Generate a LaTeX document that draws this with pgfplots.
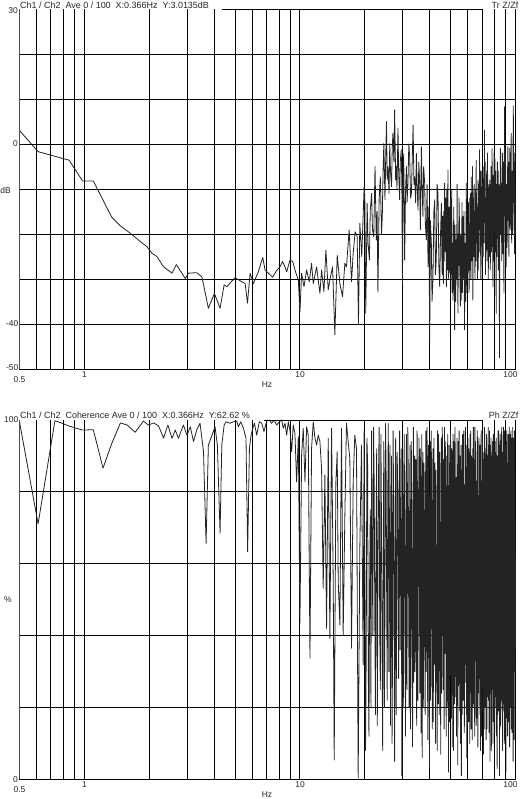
\documentclass[border=0pt]{standalone}
\usepackage{pgfplots}
\pgfplotsset{compat=1.18}
\usepackage{fontspec}
\setmainfont{Liberation Sans}
\definecolor{axred}{RGB}{200,25,25}
\definecolor{trace}{RGB}{35,35,35}
\tikzset{
  tl/.style={font=\fontsize{8.5}{10}\selectfont, inner sep=0pt, text=black!85},
  hd/.style={font=\fontsize{9}{10}\selectfont, inner sep=0pt, text=black!85},
}

\pgfplotstableread{
x y
0.5 3.0
0.61 -1.7
0.85 -3.6
0.98 -8.2
1.10 -8.2
1.34 -16.3
1.47 -18.2
1.63 -19.8
1.82 -21.7
1.95 -22.8
2.06 -24.3
2.17 -25.0
2.33 -27.3
2.55 -28.7
2.67 -26.8
2.94 -29.9
3.04 -28.7
3.32 -28.6
3.51 -29.5
3.76 -36.5
4.01 -33.2
4.26 -36.5
4.45 -31.3
4.58 -31.7
5.00 -29.7
5.37 -30.6
5.57 -31.0
5.71 -35.4
5.87 -28.7
6.08 -31.0
6.41 -28.4
6.72 -25.2
6.89 -28.0
7.14 -28.7
7.47 -29.6
7.80 -28.1
8.08 -27.3
8.31 -26.1
8.52 -27.3
8.68 -28.4
8.99 -25.8
9.25 -26.1
9.58 -28.7
9.83 -30.2
10.00 -37.3
10.18 -28.7
10.44 -31.7
10.74 -28.0
11.05 -30.6
11.32 -26.5
11.53 -31.0
11.95 -27.3
12.38 -33.2
12.60 -28.0
12.92 -32.8
13.19 -23.6
13.53 -32.4
13.77 -30.2
14.17 -27.3
14.52 -42.4
14.89 -24.7
15.32 -31.0
15.76 -33.9
16.16 -26.5
16.44 -27.3
16.92 -19.1
17.35 -30.6
17.66 -24.3
18.04 -19.5
18.43 -20.6
18.69 -39.9
18.96 -17.6
19.36 -25.0
19.85 -9.5
20.0 -12.0
20.2 -37.6
20.5 -13.2
20.7 -22.0
21.0 -25.8
21.2 -14.7
21.5 -11.0
21.7 -19.0
22.0 -20.6
22.3 -5.0
22.6 -21.3
22.8 -15.0
23.0 -32.8
23.3 -12.4
23.6 -7.3
23.9 -20.0
24.1 -16.1
24.3 -6.0
24.5 0.1
24.8 -12.4
25.0 -3.0
25.2 5.0
25.4 -8.0
25.6 -5.0
25.9 -11.0
26.1 0.1
26.3 -6.0
26.6 -9.5
26.8 -1.0
27.0 2.4
27.3 -4.0
27.5 7.6
27.8 -8.0
28.0 -5.0
28.2 -10.0
28.5 3.5
28.7 -6.0
29.0 -12.4
29.2 -4.0
29.5 -1.3
29.7 -9.0
29.9 -31.3
30.1 -8.0
30.3 -2.1
30.6 -25.8
30.9 -10.0
31.2 -5.0
31.4 -13.0
31.7 -8.7
32.0 0.0
32.3 -2.8
32.6 -12.0
32.9 -11.0
33.2 -3.0
33.5 4.2
33.8 -9.0
34.1 -7.3
34.4 -13.0
34.7 -2.1
35.0 -10.0
35.3 -14.7
35.6 -4.0
35.9 -8.0
36.2 -19.0
36.6 -0.6
36.9 -10.0
37.2 -16.1
37.5 -5.0
37.9 -8.7
38.2 -18.0
38.6 -21.3
38.9 -9.0
39.3 -27.3
39.6 -14.0
40.0 -44.0
40.3 -17.0
40.7 -22.1
41.0 -35.0
41.4 -30.2
41.8 -15.0
42.2 -12.4
42.5 -29.0
42.9 -25.8
43.3 -9.0
43.7 -11.0
44.1 -27.0
44.5 -31.7
44.9 -20.0
45.3 -13.2
45.5 -24
45.7 -29.0
45.9 -16
46.1 -23.6
46.3 -31
46.5 -15.0
46.7 -26
46.9 -8.7
47.1 -20
47.3 -24.0
47.5 -12
47.8 -31.7
48.0 -10
48.2 -18.0
48.4 -28
48.6 -5.8
48.8 -30
49.0 -22.0
49.2 -14
49.5 -28.7
49.7 -20
49.9 -12.0
50.1 -30
50.4 -19.1
50.6 -10
50.8 -33.0
51.0 -22
51.3 -34.7
51.5 -25
51.7 -14.0
52.0 -30
52.2 -41.3
52.4 -18
52.6 -25.0
52.8 -35
53.1 -21.3
53.3 -30
53.6 -9.0
53.8 -26
54.1 -37.6
54.3 -20
54.5 -27.0
54.7 -12
55.0 -18.4
55.2 -29
55.5 -36.0
55.7 -20
56.0 -34.7
56.2 -24
56.5 -13.0
56.7 -33
57.0 -16.1
57.2 -27
57.5 -30.0
57.7 -15
58.0 -41.3
58.2 -28
58.5 -22.0
58.8 -35
59.1 -8.7
59.3 -21
59.6 -33.0
59.8 -18
60.1 -28.7
60.3 -20
60.5 -13.0
60.7 -24
60.9 -33.0
61.2 -21.3
61.4 -12
61.6 -28.0
61.9 -11.0
62.1 -30
62.3 -7.3
62.5 -18
62.7 -26.0
63.0 -17.0
63.2 -5
63.4 -34.7
63.6 -22
63.8 -12.0
64.1 -25.0
64.3 -9
64.5 -17.6
64.7 -27
64.9 -30.0
65.1 -19
65.3 -10.0
65.5 -26
65.7 -3.6
65.9 -15
66.1 -22.0
66.4 -14.0
66.6 -30
66.8 -21.3
67.0 -8
67.2 -28.0
67.4 -16
67.6 -9.0
67.8 -24
68.1 -1.3
68.3 -12
68.5 -19.0
68.7 -6
68.9 -24.0
69.1 -30
69.3 -16.1
69.5 -22
69.7 -6.0
69.9 -14
70.1 -27.0
70.3 -18
70.6 -8.7
70.8 -25
71.0 -20.0
71.2 -5
71.4 -13.0
71.6 -22
71.8 3.1
72.0 -10
72.2 -15.0
72.4 -4
72.6 -29.0
72.8 -12
73.1 -21.3
73.3 -14
73.5 -6.0
73.7 -26
73.9 -18.0
74.1 -2
74.4 -12.4
74.6 -20
74.8 -30.0
75.0 -16
75.3 -9.0
75.5 -22
75.8 -25.0
76.0 -8
76.2 -14.0
76.4 -28
76.6 -22.0
76.8 -11
77.1 -5.0
77.3 -24
77.6 -19.0
77.8 -1
78.1 -10.0
78.3 -21
78.6 -31.7
78.8 -7
79.0 -16.0
79.2 -26
79.5 -2.0
79.7 -19
80.0 -12.4
80.2 -3
80.4 -24.0
80.6 -15
80.9 -6.0
81.1 -22
81.4 -37.6
81.6 -9
81.8 -14.0
82.1 -25
82.4 -4.0
82.6 -17
82.9 -18.4
83.1 -6
83.3 -28.0
83.5 -14
83.8 -9.0
84.0 -21
84.3 -47.5
84.5 -16
84.8 -12.0
85.1 -1
85.4 -20.0
85.6 -10
85.9 -8.7
86.1 -18
86.4 -26.0
86.6 -7
86.9 -2.0
87.1 -15
87.4 -24.4
87.6 -4
87.9 -11.0
88.1 -20
88.4 -33.0
88.7 -8
89.0 8.3
89.2 -12
89.5 -16.0
89.7 -2
90.0 -5.0
90.2 -18
90.5 -27.3
90.7 -11
91.0 -9.0
91.3 -23
91.6 -20.0
91.9 -6
92.2 -0.6
92.4 -17
92.7 -14.0
92.9 -4
93.2 -25.0
93.5 -9
93.8 -18.4
94.0 -1
94.3 -3.0
94.6 -19
94.9 -12.0
95.2 -5
95.5 2.4
95.7 -14
96.0 -22.0
96.3 -8
96.6 -6.0
96.9 -20
97.2 -16.1
97.4 -3
97.7 8.5
98.0 -13
98.3 -10.0
98.6 -2
98.9 -24.4
99.1 -9
99.4 -4.0
99.7 -15
100 -19.8
}\trdata

\pgfplotstableread{
x y
0.5 99.5
0.61 71.1
0.73 99.8
0.78 99.2
0.85 98.3
0.98 97.2
1.10 97.3
1.22 86.6
1.34 93.5
1.47 99.2
1.58 98.6
1.72 96.6
1.88 99.7
1.98 98.6
2.10 99.2
2.21 98.3
2.33 95.0
2.44 98.6
2.55 94.9
2.64 97.2
2.73 94.9
2.88 98.6
2.99 95.8
3.10 98.1
3.21 94.0
3.32 97.2
3.44 99.1
3.57 91.2
3.67 65.7
3.76 93.0
3.86 94.9
4.04 98.1
4.14 93.0
4.26 68.5
4.34 93.0
4.45 98.6
4.54 99.5
4.74 99.1
4.91 99.5
5.09 99.7
5.18 98.1
5.31 99.5
5.47 97.7
5.62 94.9
5.72 63.4
5.83 92.1
5.93 95.8
6.04 97.7
6.15 99.1
6.30 95.8
6.48 99.5
6.65 99.1
6.81 96.8
7.01 99.7
7.21 100
7.39 99.1
7.58 100
7.80 98.6
8.02 99.5
8.23 100
8.37 97.7
8.52 99.1
8.68 95.8
8.83 99.5
8.99 97.2
9.15 91.2
9.31 98.6
9.48 96.3
9.65 82.8
9.83 95.4
10.00 43.4
10.18 90.3
10.36 97.7
10.55 82.8
10.74 98.1
10.93 95.8
11.13 33.7
11.32 92.1
11.53 99.5
11.74 94.9
11.95 93.0
12.16 95.8
12.38 94.0
12.60 86.5
12.82 53.2
13.05 84.7
13.29 42.0
13.53 94.9
13.77 39.2
14.02 97.7
14.27 55.0
14.42 5.4
14.68 82.8
14.89 91.2
15.05 55.0
15.32 42.9
15.59 97.7
15.87 40.2
16.16 73.6
16.44 99.1
16.74 94.0
17.04 89.3
17.35 36.5
17.66 82.8
17.97 95.8
18.30 92.1
18.63 0.3
18.96 64.3
19.30 93.0
19.65 31.8
19.85 96.8
20.0 60
20.15 8
20.3 35
20.45 95
20.6 88
20.75 30
20.9 12
21.05 55
21.2 75
21.35 20
21.5 97
21.65 62
21.8 40
21.95 98
22.1 83
22.25 45
22.4 18
22.55 70
22.7 92
22.85 15
23.0 55
23.15 85
23.3 98
23.45 42
23.6 25
23.75 96
23.9 70
24.05 35
24.2 8
24.35 66
24.5 94
24.65 20
24.8 48
24.95 99
25.1 86
25.25 52
25.4 22
25.55 78
25.7 99
25.85 30
26.0 60
26.15 93
26.3 15
26.45 57
26.6 90
26.75 10
26.9 38
27.05 97
27.2 78
27.35 40
27.5 5
27.65 68
27.8 95
27.95 18
28.1 45
28.25 91
28.4 82
28.55 50
28.7 28
28.85 80
29.0 97
29.15 36
29.3 65
29.5 92
29.7 1
29.85 55
30.0 88
30.15 20
30.3 33
30.45 96
30.6 73
30.75 44
30.9 12
31.05 81
31.2 96
31.35 25
31.5 52
31.65 98
31.8 85
31.95 48
32.1 20
32.25 70
32.4 93
32.55 14
32.7 42
32.85 94
33.0 79
33.15 35
33.3 9
33.45 64
33.6 98
33.75 27
33.9 58
34.05 90
34.2 30
34.35 74
34.5 89
34.65 40
34.8 15
34.95 97
35.1 76
35.25 22
35.4 47
35.55 83
35.7 95
35.85 55
36.0 24
36.15 92
36.3 84
36.45 13
36.6 62
36.75 96
36.9 6
37.05 50
37.2 91
37.35 20
37.5 36
37.65 88
37.8 72
37.95 45
38.1 18
38.25 80
38.4 97
38.55 30
38.7 50
38.85 98
39.0 87
39.15 11
39.3 26
39.45 93
39.6 68
39.75 38
39.9 3
40.05 75
40.2 94
40.35 22
40.5 44
40.65 97
40.8 80
40.95 49
41.1 14
41.25 70
41.4 92
41.55 16
41.7 56
41.85 95
42.0 32
42.15 64
42.3 88
42.45 40
42.6 10
42.75 86
42.9 77
43.05 27
43.2 60
43.35 8
43.5 97
43.65 52
43.8 21
43.95 96
44.1 83
44.25 18
44.4 40
44.55 91
44.7 70
44.85 33
45.0 7
45.15 62
45.3 95
45.45 24
45.6 53
45.75 98
45.9 86
46.05 42
46.2 25
46.35 89
46.5 66
46.65 14
46.8 98
46.95 58
47.1 35
47.25 94
47.4 81
47.55 44
47.7 12
47.85 68
48.0 90
48.15 20
48.3 48
48.45 96
48.6 74
48.75 37
48.9 2
49.05 60
49.2 93
49.35 16
49.5 57
49.65 88
49.8 29
49.95 97
50.1 87
50.25 45
50.4 17
50.55 92
50.7 79
50.85 9
51.0 43
51.15 85
51.3 96
51.45 34
51.6 8
51.75 94
51.9 71
52.05 21
52.2 55
52.35 98
52.5 92
52.65 47
52.8 23
52.95 76
53.1 84
53.25 12
53.4 38
53.55 95
53.7 67
53.85 30
54.0 4
54.15 82
54.3 94
54.45 26
54.6 50
54.75 97
54.9 80
55.05 40
55.2 19
55.35 73
55.5 90
55.65 10
55.8 63
55.95 93
56.1 1
56.25 54
56.4 86
56.55 18
56.7 30
56.85 96
57.0 75
57.15 22
57.3 46
57.45 88
57.6 97
57.75 51
57.9 13
58.05 70
58.2 82
58.35 32
58.5 58
58.65 98
58.8 27
58.95 66
59.1 93
59.25 39
59.4 6
59.55 87
59.7 70
59.85 15
60.0 41
60.15 95
60.3 89
60.45 44
60.6 16
60.75 92
60.9 78
61.05 26
61.2 52
61.35 10
61.5 96
61.65 63
61.8 24
61.95 97
62.1 85
62.25 14
62.4 36
62.55 90
62.7 69
62.85 43
63.0 11
63.15 77
63.3 92
63.45 20
63.6 47
63.75 98
63.9 81
64.05 35
64.2 21
64.35 89
64.5 74
64.65 12
64.8 98
64.95 55
65.1 33
65.25 94
65.4 86
65.55 41
65.7 15
65.85 83
66.0 64
66.15 17
66.3 45
66.45 97
66.6 94
66.75 50
66.9 9
67.05 72
67.2 79
67.35 24
67.5 56
67.65 95
67.8 28
67.95 68
68.1 88
68.25 31
68.4 18
68.55 93
68.7 72
68.85 8
69.0 39
69.15 85
69.3 97
69.45 46
69.6 12
69.75 61
69.9 83
70.05 19
70.2 51
70.35 96
70.5 26
70.65 75
70.8 91
70.95 36
71.1 7
71.25 89
71.4 68
71.55 14
71.7 44
71.85 98
72.0 95
72.15 53
72.3 20
72.45 92
72.6 80
72.75 29
72.9 60
73.05 11
73.2 31
73.35 96
73.5 87
73.65 48
73.8 14
73.95 90
74.1 76
74.25 23
74.4 49
74.55 84
74.7 98
74.85 40
75.0 22
75.15 93
75.3 84
75.45 13
75.6 37
75.75 97
75.9 65
76.05 28
76.2 5
76.35 71
76.5 93
76.65 35
76.8 54
76.95 95
77.1 82
77.25 8
77.4 17
77.55 62
77.7 90
77.85 25
78.0 42
78.15 94
78.3 71
78.45 33
78.6 10
78.75 86
78.9 96
79.05 45
79.2 58
79.35 16
79.5 29
79.65 97
79.8 86
79.95 52
80.1 13
80.25 91
80.4 77
80.55 20
80.7 46
80.85 88
81.0 94
81.15 38
81.3 23
81.45 95
81.6 81
81.75 12
81.9 53
82.05 90
82.2 3
82.35 66
82.5 89
82.65 18
82.8 35
82.95 97
83.1 73
83.25 43
83.4 19
83.55 84
83.7 97
83.85 27
84.0 61
84.15 93
84.3 1
84.45 57
84.6 85
84.75 14
84.9 40
85.05 96
85.2 69
85.35 31
85.5 15
85.65 80
85.8 92
85.95 22
86.1 50
86.25 98
86.4 27
86.55 64
86.7 88
86.85 37
87.0 8
87.15 91
87.3 75
87.45 19
87.6 43
87.75 85
87.9 98
88.05 46
88.2 21
88.35 94
88.5 83
88.65 10
88.8 56
88.95 97
89.1 11
89.25 70
89.4 91
89.55 26
89.7 34
89.85 93
90.0 78
90.15 42
90.3 2
90.45 82
90.6 94
90.75 17
90.9 48
91.05 97
91.2 86
91.35 33
91.5 18
91.65 88
91.8 70
91.95 12
92.1 59
92.25 95
92.4 96
92.55 45
92.7 25
92.85 90
93.0 82
93.15 16
93.3 38
93.45 98
93.6 66
93.75 29
93.9 9
94.05 74
94.2 93
94.35 21
94.5 52
94.65 96
94.8 80
94.95 36
95.1 20
95.25 87
95.4 97
95.55 14
95.7 44
95.85 92
96.0 72
96.15 27
96.3 13
96.45 95
96.6 88
96.75 50
96.9 31
97.05 98
97.2 76
97.35 19
97.5 5
97.65 68
97.8 95
97.95 34
98.1 55
98.25 93
98.4 84
98.55 11
98.7 24
98.85 97
99.0 90
99.15 47
99.3 40
99.45 86
99.6 68
99.8 30
100 62.6
}\cohdata

\begin{document}
\begin{tikzpicture}
% ---------------- top: transfer function ----------------
\begin{axis}[at={(19.5bp,-369bp)}, anchor=south west,
  scale only axis, width=496bp, height=360bp,
  xmode=log, xmin=0.5, xmax=100, ymin=-50, ymax=30,
  axis line style={draw=none},
  major tick length=0pt, minor tick length=0pt,
  xtick={1,10,100},
  minor xtick={0.6,0.7,0.8,0.9,2,3,4,5,6,7,8,9,20,30,40,50,60,70,80,90},
  ytick={-50,-40,-30,-20,-10,0,10,20},
  xticklabels={}, yticklabels={},
  xmajorgrids=true, xminorgrids=true, ymajorgrids=true,
  major grid style={black, line width=1bp},
  minor grid style={black, line width=1bp},
  clip=false]
  \addplot[trace, line width=0.8bp, line join=round] table[x=x,y=y] {\trdata};
  \draw[black, line width=1bp] (axis cs:4.35,30) -- (axis cs:69.6,30);
  \draw[axred, line width=1.2bp] (axis cs:0.5,-50) -- (axis cs:0.5,30);
\end{axis}
% ---------------- bottom: coherence ----------------
\begin{axis}[at={(19.5bp,-779.3bp)}, anchor=south west,
  scale only axis, width=496bp, height=359.3bp,
  xmode=log, xmin=0.5, xmax=100, ymin=0, ymax=100,
  axis line style={draw=none},
  major tick length=0pt, minor tick length=0pt,
  xtick={1,10,100},
  minor xtick={0.6,0.7,0.8,0.9,2,3,4,5,6,7,8,9,20,30,40,50,60,70,80,90},
  ytick={0,20,40,60,80},
  xticklabels={}, yticklabels={},
  xmajorgrids=true, xminorgrids=true, ymajorgrids=true,
  major grid style={black, line width=1bp},
  minor grid style={black, line width=1bp},
  clip=false]
  \addplot[trace, line width=0.8bp, line join=round] table[x=x,y=y] {\cohdata};
  \draw[black, line width=1bp] (axis cs:6.81,100) -- (axis cs:69.6,100);
  \draw[axred, line width=1.2bp] (axis cs:0.5,0) -- (axis cs:0.5,100);
\end{axis}
% ---------------- texts, top ----------------
\node[hd, anchor=base west] at (20bp,-8.3bp) {Ch1 / Ch2\ \ Ave 0 / 100\ \ X:0.366Hz\ \ Y:3.0135dB};
\node[hd, anchor=base east] at (518.5bp,-8.3bp) {Tr Z/Zf};
\node[tl, anchor=east] at (18bp,-11bp) {30};
\node[tl, anchor=east] at (18bp,-144bp) {0};
\node[tl] at (5.5bp,-190bp) {dB};
\node[tl, anchor=east] at (18.5bp,-324bp) {-40};
\node[tl, anchor=east] at (18.5bp,-368bp) {-50};
\node[tl] at (19.5bp,-380bp) {0.5};
\node[tl] at (84.5bp,-374.5bp) {1};
\node[tl] at (300bp,-374.5bp) {10};
\node[tl] at (510.5bp,-374.5bp) {100};
\node[tl] at (267bp,-384.5bp) {Hz};
% ---------------- texts, bottom ----------------
\node[hd, anchor=base west] at (20bp,-418.3bp) {Ch1 / Ch2\ \ Coherence Ave 0 / 100\ \ X:0.366Hz\ \ Y:62.62 \%};
\node[hd, anchor=base east] at (518.5bp,-418.3bp) {Ph Z/Zf};
\node[tl, anchor=east] at (18.5bp,-420bp) {100};
\node[tl, anchor=east] at (18bp,-779.5bp) {0};
\node[tl] at (8bp,-600bp) {\%};
\node[tl] at (19.5bp,-790bp) {0.5};
\node[tl] at (84.5bp,-785bp) {1};
\node[tl] at (300bp,-784.5bp) {10};
\node[tl] at (510.5bp,-784.5bp) {100};
\node[tl] at (267bp,-794.5bp) {Hz};
\pgfresetboundingbox
\path[use as bounding box] (0bp,0bp) rectangle (521bp,-799bp);
\end{tikzpicture}
\end{document}
